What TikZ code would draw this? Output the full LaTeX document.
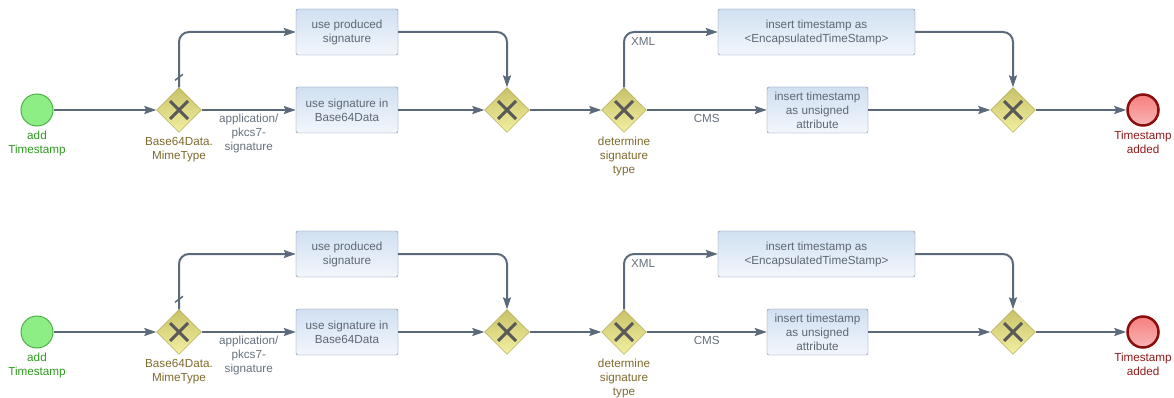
\documentclass[tikz,border=0pt]{standalone}
\usepackage{fontspec}
\setmainfont{Liberation Sans}
\usetikzlibrary{shapes.geometric,arrows.meta}

\definecolor{flowgray}{HTML}{5A6A7A}
\definecolor{tasktop}{HTML}{D0E0F1}
\definecolor{taskbot}{HTML}{F3F7FC}
\definecolor{taskline}{HTML}{6F8398}
\definecolor{tasktext}{HTML}{5E6874}
\definecolor{gwtop}{HTML}{C8C268}
\definecolor{gwbot}{HTML}{F2F0A2}
\definecolor{gwline}{HTML}{A39B3E}
\definecolor{gwtext}{HTML}{7D6A2E}
\definecolor{lblgray}{HTML}{66717E}
\definecolor{startfill}{HTML}{8EEE86}
\definecolor{startline}{HTML}{4FAF4A}
\definecolor{starttext}{HTML}{2E9A1E}
\definecolor{endfill}{HTML}{F59494}
\definecolor{endline}{HTML}{8A0E0E}
\definecolor{endtext}{HTML}{8E1A1A}

\begin{document}
\begin{tikzpicture}[x=1pt,y=-1pt]
\tikzstyle{every node}=[font=\fontsize{11.7}{14}\selectfont];
\tikzstyle{task}=[draw=taskline,rounded corners=2pt,top color=tasktop,bottom color=taskbot,text=tasktext,minimum height=46pt,align=center,inner sep=2pt];
\tikzstyle{gateway}=[diamond,draw=gwline,top color=gwtop,bottom color=gwbot,minimum size=45pt,inner sep=0pt,path picture={\draw[line width=3pt,black!65] (path picture bounding box.center) +(-9pt,-9pt) -- +(9pt,9pt) +(-9pt,9pt) -- +(9pt,-9pt);}];
\tikzstyle{startev}=[circle,draw=startline,line width=1pt,fill=startfill,minimum size=32pt,inner sep=0pt];
\tikzstyle{endev}=[circle,draw=endline,line width=2.5pt,top color=endfill!85!red,bottom color=endfill!70!white,minimum size=31pt,inner sep=0pt];
\tikzstyle{flow}=[draw=flowgray,line width=2pt,-{Stealth[length=12pt,width=8pt,inset=2pt]}];
\tikzstyle{flowline}=[draw=flowgray,line width=1.5pt];
\tikzstyle{evlabel}=[align=center,inner sep=1pt,label distance=3pt];
\useasboundingbox (0,0) rectangle (1174,398);

\foreach \r/\dy in {1/0,2/222}{
\begin{scope}[yshift=-\dy pt]
% events, gateways and tasks
\node[startev,label={[evlabel,text=starttext]below:{add\\Timestamp}}] (start\r) at (37,110) {};
\node[gateway,label={[evlabel,text=gwtext]below:{Base64Data.\\MimeType}}] (split\r) at (179,110) {};
\node[task,minimum width=102pt] (produced\r) at (347,32) {use produced\\signature};
\node[task,minimum width=102pt] (base\r) at (347,110) {use signature in\\Base64Data};
\node[gateway] (join\r) at (507,110) {};
\node[gateway,label={[evlabel,text=gwtext]below:{determine\\signature\\type}}] (type\r) at (624,110) {};
\node[task,minimum width=197pt] (xml\r) at (816.5,32) {insert timestamp as\\<EncapsulatedTimeStamp>};
\node[task,minimum width=101pt] (cms\r) at (817.5,110) {insert timestamp\\as unsigned\\attribute};
\node[gateway] (merge\r) at (1013,110) {};
\node[endev,label={[evlabel,text=endtext]below:{Timestamp\\added}}] (end\r) at (1143,110) {};
% sequence flows
\draw[flow] (start\r) -- (split\r);
\draw[flow,rounded corners=10pt] (split\r) |- (produced\r);
\draw[flowline] ([shift={(-4,-7)}]split\r.north) -- ++(8,-6);
\draw[flow] (split\r) -- node[evlabel,below,yshift=-2pt,text=lblgray]{application/\\pkcs7-\\signature} (base\r);
\draw[flow,rounded corners=10pt] (produced\r) -| (join\r);
\draw[flow] (base\r) -- (join\r);
\draw[flow] (join\r) -- (type\r);
\draw[flow,rounded corners=10pt] (type\r) |- node[evlabel,anchor=north west,pos=0.5,xshift=5pt,yshift=-3pt,text=lblgray]{XML} (xml\r);
\draw[flow] (type\r) -- node[evlabel,below,yshift=-2pt,text=lblgray]{CMS} (cms\r);
\draw[flow,rounded corners=10pt] (xml\r) -| (merge\r);
\draw[flow] (cms\r) -- (merge\r);
\draw[flow] (merge\r) -- (end\r);
\end{scope}
}
\end{tikzpicture}
\end{document}
